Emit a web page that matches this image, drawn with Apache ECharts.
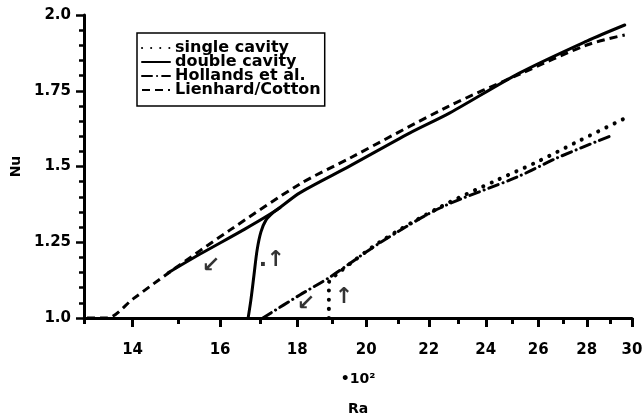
<!DOCTYPE html>
<html>
<head>
<meta charset="utf-8">
<script src="https://cdn.jsdelivr.net/npm/echarts@6/dist/echarts.min.js"></script>
<style>
  html, body { margin: 0; padding: 0; background: #fff; }
  #chart { width: 644px; height: 415px; }
</style>
</head>
<body>
<div id="chart"></div>
<script>
// Rayleigh number axis (Ra / 100), logarithmic, with labelled and unlabelled ticks
const raMajorTicks = [14, 16, 18, 20, 22, 24, 26, 28, 30];
const raMinorTicks = [13, 15, 17, 19, 21, 23, 25, 27, 29];

// Nusselt number tick labels
const nuTickLabels = { 1: '1.0', 1.25: '1.25', 1.5: '1.5', 1.75: '1.75', 2: '2.0' };

// [Ra/100, Nu] pairs for each curve
const singleCavity = [
  [18.89, 1.0], [18.89, 1.116], [19.06, 1.139], [20.42, 1.251], [22.38, 1.366],
  [24.41, 1.455], [25.95, 1.515], [27.58, 1.581], [29.90, 1.667]
];
const doubleCavity = [
  [14.78, 1.149], [15.52, 1.211], [16.57, 1.290], [17.40, 1.353], [18.07, 1.413],
  [19.51, 1.502], [21.38, 1.611], [22.72, 1.677], [25.28, 1.809], [28.00, 1.914],
  [29.67, 1.967]
];
const doubleCavityOnset = [
  [16.70, 1.0], [16.77, 1.059], [16.85, 1.142], [16.93, 1.224], [17.03, 1.284],
  [17.16, 1.323], [17.34, 1.347], [17.53, 1.364]
];
const hollands = [
  [17.08, 1.0], [18.07, 1.076], [18.92, 1.135], [20.42, 1.248], [22.38, 1.363],
  [25.17, 1.465], [26.75, 1.528], [29.14, 1.604]
];
const lienhardCotton = [
  [13.06, 1.0], [13.46, 1.0], [14.01, 1.063], [14.82, 1.152], [16.24, 1.290],
  [18.07, 1.442], [19.51, 1.528], [22.62, 1.696], [25.28, 1.805], [28.00, 1.901],
  [29.67, 1.934]
];

// Hysteresis direction arrows: [Ra/100, Nu, glyph]
const arrowMarks = [
  [15.78, 1.172, '↙'],
  [17.42, 1.191, '↑'],
  [17.08, 1.175, '·'],
  [18.24, 1.046, '↙'],
  [19.33, 1.069, '↑']
];

const FONT = 'DejaVu Sans';
const INK = '#000';

const chart = echarts.init(document.getElementById('chart'));

const lineSeries = (name, data, lineStyle) => ({
  name,
  type: 'line',
  data,
  xAxisIndex: 0,
  yAxisIndex: 0,
  symbol: 'none',
  smooth: 0.3,
  silent: true,
  lineStyle: Object.assign({ color: INK }, lineStyle),
  itemStyle: { color: INK },
  z: 3
});

const dottedStyle = { width: 4, type: [0.1, 9], cap: 'round' };
const solidStyle = { width: 3, type: 'solid', cap: 'round' };
const dashDotStyle = { width: 3, type: [10, 5, 0.1, 5], cap: 'round' };
const dashedStyle = { width: 3, type: [8, 5], cap: 'butt' };

chart.setOption({
  animation: false,
  backgroundColor: '#fff',
  grid: { left: 84, right: 12, top: 15, bottom: 97, containLabel: false, outerBoundsMode: 'none' },
  legend: {
    left: 137,
    top: 33,
    orient: 'vertical',
    data: ['single cavity', 'double cavity', 'Hollands et al.', 'Lienhard/Cotton'],
    itemWidth: 28,
    itemHeight: 14,
    itemGap: -2,
    padding: [7, 4, 8, 4],
    borderColor: INK,
    borderWidth: 1.5,
    borderRadius: 0,
    selectedMode: false,
    itemStyle: { opacity: 0 },
    textStyle: { fontFamily: FONT, fontSize: 16, fontWeight: 'bold', color: INK, lineHeight: 14 }
  },
  xAxis: [
    {
      type: 'log',
      logBase: 10,
      min: 13,
      max: 30,
      position: 'bottom',
      name: '•10²\nRa',
      nameLocation: 'middle',
      nameGap: 46,
      nameTextStyle: { fontFamily: FONT, fontSize: 14, fontWeight: 'bold', color: INK, lineHeight: 30 },
      axisLine: { show: true, lineStyle: { color: INK, width: 3 } },
      axisTick: { show: true, customValues: raMajorTicks, length: 9, lineStyle: { color: INK, width: 3 } },
      axisLabel: {
        show: true,
        customValues: raMajorTicks,
        formatter: v => String(Math.round(v)),
        margin: 25,
        fontFamily: FONT, fontSize: 15, fontWeight: 'bold', color: INK
      },
      splitLine: { show: false },
      minorTick: { show: false },
      minorSplitLine: { show: false }
    },
    {
      type: 'log',
      logBase: 10,
      min: 13,
      max: 30,
      position: 'bottom',
      axisLine: { show: false },
      axisTick: { show: true, customValues: raMinorTicks, length: 6, lineStyle: { color: INK, width: 3 } },
      axisLabel: { show: false },
      splitLine: { show: false }
    }
  ],
  yAxis: {
    type: 'value',
    min: 1,
    max: 2,
    interval: 0.25,
    name: 'Nu',
    nameLocation: 'middle',
    nameGap: 58,
    nameRotate: 90,
    nameTextStyle: { fontFamily: FONT, fontSize: 14, fontWeight: 'bold', color: INK },
    axisLine: { show: true, lineStyle: { color: INK, width: 3 } },
    axisTick: { show: true, length: 8, lineStyle: { color: INK, width: 2.5 } },
    minorTick: { show: true, splitNumber: 5, length: 5, lineStyle: { color: INK, width: 2.5 } },
    axisLabel: {
      formatter: v => nuTickLabels[v] !== undefined ? nuTickLabels[v] : '',
      margin: 13,
      fontFamily: FONT, fontSize: 15, fontWeight: 'bold', color: INK
    },
    splitLine: { show: false },
    minorSplitLine: { show: false }
  },
  series: [
    lineSeries('single cavity', singleCavity, dottedStyle),
    lineSeries('double cavity', doubleCavity, solidStyle),
    lineSeries('double cavity', doubleCavityOnset, solidStyle),
    lineSeries('Hollands et al.', hollands, dashDotStyle),
    lineSeries('Lienhard/Cotton', lienhardCotton, dashedStyle),
    {
      name: 'arrows',
      type: 'scatter',
      xAxisIndex: 0,
      yAxisIndex: 0,
      silent: true,
      symbolSize: 0,
      data: arrowMarks,
      label: {
        show: true,
        position: 'inside',
        formatter: p => p.data[2],
        fontFamily: FONT,
        fontSize: 22,
        fontWeight: 'bold',
        color: INK
      },
      z: 4
    }
  ]
});
</script>
</body>
</html>
